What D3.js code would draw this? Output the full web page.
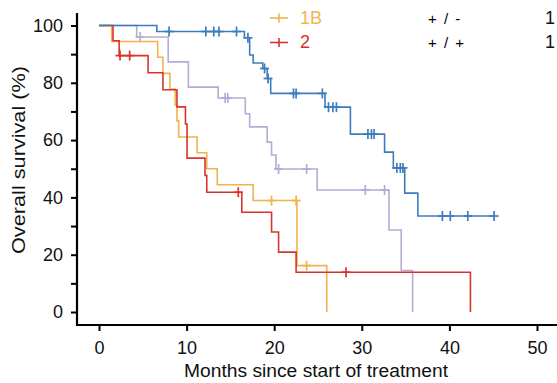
<!DOCTYPE html>
<html><head><meta charset="utf-8">
<script src="https://cdn.jsdelivr.net/npm/d3@7"></script>
<style>body{margin:0;background:#fff}svg{display:block;font-family:"Liberation Sans",Arial,sans-serif}</style>
</head><body>
<script>
// ---- data ----
const xTicks = [0,10,20,30,40,50];
const yTicks = [0,10,20,30,40,50,60,70,80,90,100];
const yLabels = [0,20,40,60,80,100];

const blueT = [0,6.6,16.6,17.2,17.6,18.7,19.2,19.6,25.8,28.7,32.6,33.6,34.9,36.4,45.1];
const blueS = [100,97.9,95.7,89.7,86.9,85.0,81.5,76.3,71.5,62.1,55.8,50.3,41.5,33.5,33.5];
const blueC = [8.0,12.2,13.1,13.7,15.7,17.0,18.9,19.3,22.2,22.5,25.5,26.2,26.7,27.1,30.7,31.1,31.4,34.0,34.4,34.7,39.2,40.1,42.1,45.1];

const purpleT = [0,4.3,7.9,10.2,13.6,16.7,17.2,19.2,19.7,20.2,24.9,33.1,34.5,35.8];
const purpleS = [100,96.0,87.3,78.5,74.7,69.2,64.6,59.3,54.8,49.9,42.6,28.6,14.5,0];
const purpleC = [4.7,14.4,14.7,20.5,23.7,30.4,32.6];

const orangeT = [0,1.45,6.7,7.3,8.1,8.7,8.9,9.1,11.2,12.3,13.5,17.6,22.6,26.0];
const orangeS = [100,94.4,88.9,83.3,77.8,72.2,66.7,61.1,55.6,50,44.4,38.9,16.2,0];
const orangeC = [19.7,22.5,23.7];

const redT = [0,1.6,2.3,5.6,7.3,8.9,9.87,10.05,12.1,12.3,16.3,19.7,20.5,22.5,42.4];
const redS = [100,94.7,89.5,83.5,77.6,71.6,65.6,53.7,47.7,41.8,34.8,27.9,20.9,13.9,0];
const redC = [2.4,3.5,15.9,28.2];

const legendNames = ["1B","2"];
const legendMarkers = ["+ / -","+ / +"];
const legendCounts = ["1","1"];

const colBlue = "#3f7cbd", colPurple = "#b6aad6", colOrange = "#f3b24d", colRed = "#d8332c";
const legendColors = [colOrange, colRed];
const legendTextColors = ["#f4b453", "#d42f2a"];

// ---- chart ----
const W = 557, H = 383;
const svg = d3.select("body").append("svg").attr("width", W).attr("height", H);
const x = d3.scaleLinear().domain([0,50]).range([99,537]);
const y = d3.scaleLinear().domain([0,100]).range([312,25.5]);

// axes
const yAxis = d3.axisLeft(y).tickValues(yTicks).tickSize(6).tickPadding(8).tickSizeOuter(0)
  .tickFormat(d => yLabels.includes(d) ? d : "");
const gy = svg.append("g").attr("transform","translate(77,0)").call(yAxis);
gy.select(".domain").remove();
gy.selectAll("line").attr("stroke","#000").attr("stroke-width",2);
gy.selectAll("text").attr("font-size",18).attr("fill","#111").attr("font-family","'Liberation Sans',Arial,sans-serif");

const xAxis = d3.axisBottom(x).tickValues(xTicks).tickSize(6).tickPadding(10).tickSizeOuter(0);
const gx = svg.append("g").attr("transform","translate(0,325)").call(xAxis);
gx.select(".domain").remove();
gx.selectAll("line").attr("stroke","#000").attr("stroke-width",2);
gx.selectAll("text").attr("font-size",18).attr("fill","#111").attr("font-family","'Liberation Sans',Arial,sans-serif");

svg.append("line").attr("x1",77).attr("x2",77).attr("y1",13).attr("y2",326).attr("stroke","#000").attr("stroke-width",2.2);
svg.append("line").attr("x1",76).attr("x2",W).attr("y1",325).attr("y2",325).attr("stroke","#000").attr("stroke-width",2.2);

svg.append("text").attr("x",316).attr("y",377).attr("text-anchor","middle").attr("font-size",17.5)
  .attr("textLength",264).attr("lengthAdjust","spacingAndGlyphs").attr("fill","#111")
  .text("Months since start of treatment");
svg.append("text").attr("transform","translate(25,160) rotate(-90)").attr("text-anchor","middle").attr("font-size",18)
  .attr("textLength",188).attr("lengthAdjust","spacingAndGlyphs").attr("fill","#111")
  .text("Overall survival (%)");

// curves
const line = d3.line().x(d => x(d[0])).y(d => y(d[1])).curve(d3.curveStepAfter);
function survAt(T,S,t){ let v=S[0]; for(let i=0;i<T.length;i++){ if(T[i]<=t) v=S[i]; } return v; }
function drawSeries(T,S,C,color){
  const pts = T.map((t,i)=>[t,S[i]]);
  svg.append("path").attr("d", line(pts)).attr("fill","none").attr("stroke",color).attr("stroke-width",1.6);
  const g = svg.append("g").attr("stroke",color).attr("stroke-width",1.7);
  C.forEach(t => {
    const cx = x(t), cy = y(survAt(T,S,t));
    g.append("line").attr("x1",cx-4.5).attr("x2",cx+4.5).attr("y1",cy).attr("y2",cy);
    g.append("line").attr("x1",cx).attr("x2",cx).attr("y1",cy-5).attr("y2",cy+5);
  });
}
drawSeries(purpleT,purpleS,purpleC,colPurple);
drawSeries(orangeT,orangeS,orangeC,colOrange);
drawSeries(redT,redS,redC,colRed);
drawSeries(blueT,blueS,blueC,colBlue);

// legend
legendNames.forEach((n,i) => {
  const by = 23.5 + i*24.5;
  const cy = by - 5.5;
  svg.append("line").attr("x1",270).attr("x2",288).attr("y1",cy).attr("y2",cy).attr("stroke",legendColors[i]).attr("stroke-width",1.6);
  svg.append("line").attr("x1",279).attr("x2",279).attr("y1",cy-4.5).attr("y2",cy+4.5).attr("stroke",legendColors[i]).attr("stroke-width",1.6);
  svg.append("text").attr("x",300).attr("y",by).attr("font-size",18).attr("fill",legendTextColors[i]).text(n);
  svg.append("text").attr("x",428).attr("y",by).attr("font-size",15).attr("word-spacing",3).attr("fill","#000").text(legendMarkers[i]);
  svg.append("text").attr("x",545).attr("y",by).attr("font-size",18).attr("fill","#111").text(legendCounts[i]);
});
</script>
</body></html>
